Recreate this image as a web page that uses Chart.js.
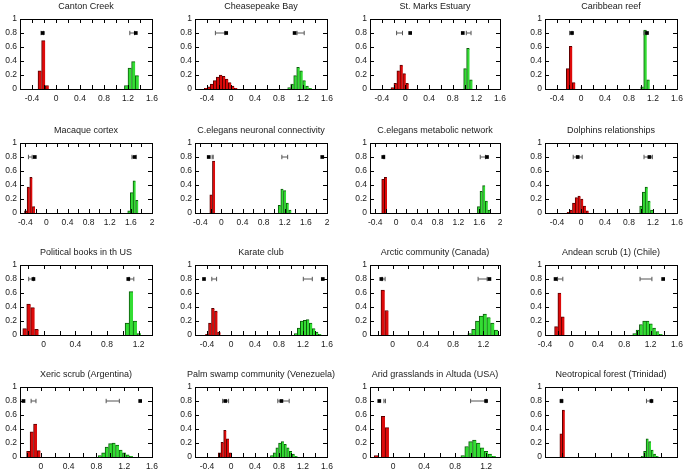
<!DOCTYPE html>
<html>
<head>
<meta charset="utf-8">
<script src="https://cdn.jsdelivr.net/npm/chart.js@4.4.1/dist/chart.umd.min.js"></script>
<style>
  html, body { margin: 0; padding: 0; background: #fff; }
  #page { position: relative; width: 686px; height: 472px; overflow: hidden; }
  #page canvas { position: absolute; }
</style>
</head>
<body>
<div id="page"></div>
<script>
// Panel titles and x ranges
const titles = [
    'Canton Creek', 'Cheasepeake Bay', 'St. Marks Estuary', 'Caribbean reef',
    'Macaque cortex', 'C.elegans neuronal connectivity', 'C.elegans metabolic network', 'Dolphins relationships',
    'Political books in th US', 'Karate club', 'Arctic community (Canada)', 'Andean scrub (1) (Chile)',
    'Xeric scrub (Argentina)', 'Palm swamp community (Venezuela)', 'Arid grasslands in Altuda (USA)', 'Neotropical forest (Trinidad)'
];
const xMin = [-0.6, -0.6, -0.6, -0.6, -0.5, -0.5, -0.5, -0.6, -0.3, -0.6, -0.3, -0.4, -0.3, -0.6, -0.3, -0.25];
const xMax = [1.6, 1.6, 1.6, 1.6, 2, 2, 2, 1.6, 1.37, 1.6, 1.42, 1.6, 1.6, 1.6, 1.38, 1.35];

// Red histograms (bin centres / fraction)
const redBins = [
    [-0.27, -0.21, -0.15],
    [-0.42, -0.37, -0.32, -0.27, -0.22, -0.17, -0.12, -0.07, -0.02, 0.03, 0.08],
    [-0.22, -0.17, -0.12, -0.07, -0.02, 0.03],
    [-0.22, -0.17, -0.12],
    [-0.39, -0.34, -0.29, -0.24],
    [-0.195, -0.145],
    [-0.25, -0.2],
    [-0.21, -0.165, -0.12, -0.075, -0.03, 0.015, 0.06, 0.105],
    [-0.24, -0.19, -0.14, -0.09],
    [-0.4, -0.35, -0.3, -0.25, -0.2],
    [-0.13, -0.08],
    [-0.23, -0.18, -0.13],
    [-0.18, -0.13, -0.08, -0.03],
    [-0.19, -0.145, -0.1, -0.055, -0.01],
    [-0.22, -0.13, -0.08],
    [-0.055, -0.025]
];
const redFreq = [
    [0.26, 0.69, 0.05],
    [0.01, 0.03, 0.07, 0.12, 0.17, 0.2, 0.18, 0.14, 0.09, 0.04, 0.01],
    [0.02, 0.08, 0.26, 0.34, 0.22, 0.08],
    [0.29, 0.61, 0.09],
    [0.03, 0.37, 0.51, 0.09],
    [0.26, 0.74],
    [0.48, 0.51],
    [0.01, 0.04, 0.14, 0.22, 0.24, 0.2, 0.1, 0.03],
    [0.09, 0.44, 0.39, 0.08],
    [0.01, 0.17, 0.38, 0.34, 0.04],
    [0.64, 0.35],
    [0.12, 0.6, 0.26],
    [0.08, 0.36, 0.47, 0.09],
    [0.06, 0.21, 0.38, 0.26, 0.06],
    [0.02, 0.58, 0.42],
    [0.33, 0.67]
];

// Green histograms
const greenBins = [
    [1.17, 1.23, 1.29, 1.35],
    [0.97, 1.02, 1.07, 1.12, 1.17, 1.22, 1.27, 1.32],
    [1.01, 1.06, 1.11],
    [1.02, 1.07, 1.12],
    [1.565, 1.615, 1.665, 1.715],
    [1.1, 1.15, 1.2, 1.25, 1.3],
    [1.59, 1.64, 1.69, 1.74, 1.79],
    [1.0, 1.045, 1.09, 1.135, 1.18],
    [1.055, 1.105, 1.155, 1.205],
    [1.08, 1.13, 1.18, 1.23, 1.28, 1.33, 1.38, 1.43, 1.48],
    [1.02, 1.07, 1.12, 1.17, 1.22, 1.27, 1.32, 1.37],
    [0.955, 1.005, 1.055, 1.105, 1.155, 1.205, 1.255, 1.305, 1.355],
    [0.85, 0.9, 0.95, 1.0, 1.05, 1.1, 1.15, 1.2, 1.25, 1.3],
    [0.68, 0.725, 0.77, 0.815, 0.86, 0.905, 0.95, 0.995, 1.04, 1.085],
    [0.9, 0.95, 1.0, 1.05, 1.1, 1.15, 1.2, 1.25, 1.3],
    [0.93, 0.96, 0.99, 1.02, 1.05, 1.08, 1.11]
];
const greenFreq = [
    [0.05, 0.3, 0.39, 0.19],
    [0.02, 0.07, 0.19, 0.31, 0.26, 0.12, 0.04, 0.01],
    [0.29, 0.58, 0.13],
    [0.03, 0.84, 0.13],
    [0.03, 0.29, 0.46, 0.18],
    [0.11, 0.34, 0.32, 0.14, 0.04],
    [0.09, 0.31, 0.39, 0.17, 0.04],
    [0.1, 0.3, 0.37, 0.17, 0.04],
    [0.17, 0.62, 0.2, 0.02],
    [0.02, 0.1, 0.2, 0.21, 0.22, 0.17, 0.09, 0.04, 0.01],
    [0.02, 0.08, 0.2, 0.27, 0.3, 0.25, 0.17, 0.07],
    [0.02, 0.07, 0.15, 0.2, 0.2, 0.16, 0.1, 0.05, 0.01],
    [0.02, 0.06, 0.14, 0.19, 0.2, 0.17, 0.1, 0.06, 0.03, 0.01],
    [0.02, 0.06, 0.13, 0.2, 0.22, 0.18, 0.13, 0.08, 0.04, 0.01],
    [0.02, 0.15, 0.22, 0.24, 0.2, 0.13, 0.08, 0.04, 0.01],
    [0.01, 0.08, 0.26, 0.22, 0.1, 0.04, 0.01]
];

// Error bars (mean +- sd) and measured values, all drawn at markerLevel
const markerLevel = 0.8;
const redMean = [-0.23, -0.18, -0.1, -0.17, -0.305, -0.165, -0.23, -0.055, -0.16, -0.28, -0.12, -0.17, -0.105, -0.09, -0.11, -0.05];
const redSd = [0.02, 0.08, 0.05, 0.02, 0.035, 0.01, 0.012, 0.075, 0.03, 0.04, 0.02, 0.04, 0.035, 0.05, 0.01, 0.008];
const redValue = [-0.22, -0.08, 0.08, -0.15, -0.22, -0.24, -0.245, -0.055, -0.13, -0.45, -0.15, -0.24, -0.25, -0.095, -0.18, -0.05];
const greenMean = [1.27, 1.16, 1.07, 1.07, 1.66, 1.2, 1.67, 1.12, 1.11, 1.28, 1.19, 1.13, 1.035, 0.875, 1.1, 1.01];
const greenSd = [0.04, 0.06, 0.04, 0.02, 0.04, 0.055, 0.05, 0.07, 0.03, 0.075, 0.06, 0.09, 0.095, 0.095, 0.1, 0.03];
const greenValue = [1.33, 1.06, 0.97, 1.1, 1.67, 1.91, 1.75, 1.14, 1.07, 1.53, 1.28, 1.39, 1.43, 0.84, 1.2, 1.04];

// Plot box placement on the page
const colLeft = [20, 195, 370, 545];
const colRight = [152, 327, 500, 677];
const rowTop = [19, 143, 265, 387];
const boxHeight = 70;

const FONT = '"Liberation Sans", Arial, sans-serif';
const TEXT = '#1a1a1a';

function fmt(v) {
    const r = Math.round(v * 10) / 10;
    return String(r === 0 ? 0 : r);
}

function onStep(v, step) {
    const q = v / step;
    return Math.abs(q - Math.round(q)) < 1e-6;
}

// gnuplot-like frame with inward ticks on all four sides
const frameTicks = {
    id: 'frameTicks',
    afterLayout(chart) {
        // let the title run wider than the plot box, still centred on it
        const t = chart.titleBlock;
        if (t) { t.left = chart.chartArea.left - 30; t.right = chart.chartArea.right + 30; }
    },
    afterDraw(chart) {
        const { ctx, chartArea: a, scales } = chart;
        const L = Math.round(a.left), R = Math.round(a.right);
        const T = Math.round(a.top), B = Math.round(a.bottom);
        const len = 4;
        ctx.save();
        ctx.strokeStyle = '#000';
        ctx.lineWidth = 1;
        ctx.beginPath();
        scales.x.ticks.forEach(t => {
            const p = Math.round(scales.x.getPixelForValue(t.value)) + 0.5;
            if (p <= L + 1 || p >= R - 1) return;
            ctx.moveTo(p, B); ctx.lineTo(p, B - len);
            ctx.moveTo(p, T); ctx.lineTo(p, T + len);
        });
        scales.y.ticks.forEach(t => {
            const p = Math.round(scales.y.getPixelForValue(t.value)) + 0.5;
            if (p <= T + 1 || p >= B - 1) return;
            ctx.moveTo(L, p); ctx.lineTo(L + len, p);
            ctx.moveTo(R, p); ctx.lineTo(R - len, p);
        });
        ctx.stroke();
        ctx.strokeRect(L + 0.5, T + 0.5, R - L, B - T);
        ctx.restore();
    }
};

function makePanel(i) {
    const col = i % 4;
    const row = Math.floor(i / 4);
    const side = 30, head = 18, foot = 22;
    const w = colRight[col] - colLeft[col] + 2 * side;
    const h = boxHeight + head + foot;

    const canvas = document.createElement('canvas');
    canvas.width = w;
    canvas.height = h;
    canvas.style.left = (colLeft[col] - side) + 'px';
    canvas.style.top = (rowTop[row] - head) + 'px';
    document.getElementById('page').appendChild(canvas);

    const bars = (xs, ys) => xs.map((x, k) => ({ x: x, y: ys[k] }));
    const errBar = (m, s, color) => ({
        type: 'line',
        data: [{ x: m - s, y: markerLevel }, { x: m + s, y: markerLevel }],
        borderColor: color,
        borderWidth: 1,
        pointStyle: 'line',
        pointRotation: 90,
        pointRadius: 2.2,
        pointBorderColor: color,
        pointBorderWidth: 1,
        fill: false,
        order: 1
    });
    const dot = v => ({
        type: 'scatter',
        data: [{ x: v, y: markerLevel }],
        pointStyle: 'rect',
        pointRadius: 2.6,
        backgroundColor: '#000',
        borderWidth: 0,
        order: 0
    });
    const histStyle = (fill, edge) => ({
        backgroundColor: fill,
        borderColor: edge,
        borderWidth: { left: 1, top: 1, right: 0, bottom: 0 },
        barPercentage: 1,
        categoryPercentage: 1,
        grouped: false,
        order: 2
    });

    new Chart(canvas, {
        type: 'bar',
        data: {
            datasets: [
                Object.assign({ data: bars(redBins[i], redFreq[i]) }, histStyle('#dd0a0a', '#5a0000')),
                Object.assign({ data: bars(greenBins[i], greenFreq[i]) }, histStyle('#33dd33', '#0b5a0b')),
                errBar(redMean[i], redSd[i], '#555'),
                errBar(greenMean[i], greenSd[i], '#555'),
                dot(redValue[i]),
                dot(greenValue[i])
            ]
        },
        options: {
            responsive: false,
            animation: false,
            devicePixelRatio: 1,
            layout: { padding: { left: 0, right: side, top: 0, bottom: foot - 16 } },
            plugins: {
                legend: { display: false },
                tooltip: { enabled: false },
                title: {
                    display: true,
                    fullSize: false,
                    text: titles[i],
                    color: TEXT,
                    font: { family: FONT, size: 9, weight: 'normal' },
                    padding: { top: 0, bottom: 7.2 }
                }
            },
            scales: {
                x: {
                    type: 'linear',
                    min: xMin[i],
                    max: xMax[i],
                    offset: false,
                    grid: { display: false, drawTicks: false, offset: false },
                    border: { display: false },
                    ticks: {
                        stepSize: 0.2,
                        includeBounds: false,
                        autoSkip: false,
                        maxRotation: 0,
                        padding: 5,
                        color: TEXT,
                        font: { family: FONT, size: 8.5 },
                        callback: v => onStep(v, 0.4) ? fmt(v) : ''
                    },
                    afterFit: s => { s.height = 16; s.paddingLeft = 0; s.paddingRight = 0; }
                },
                y: {
                    min: 0,
                    max: 1,
                    grid: { display: false, drawTicks: false },
                    border: { display: false },
                    ticks: {
                        stepSize: 0.2,
                        padding: 3,
                        color: TEXT,
                        font: { family: FONT, size: 8.5 },
                        callback: v => fmt(v)
                    },
                    afterFit: s => { s.width = side; s.paddingTop = 0; s.paddingBottom = 0; }
                }
            }
        },
        plugins: [frameTicks]
    });
}

for (let i = 0; i < titles.length; i++) makePanel(i);
</script>
</body>
</html>
